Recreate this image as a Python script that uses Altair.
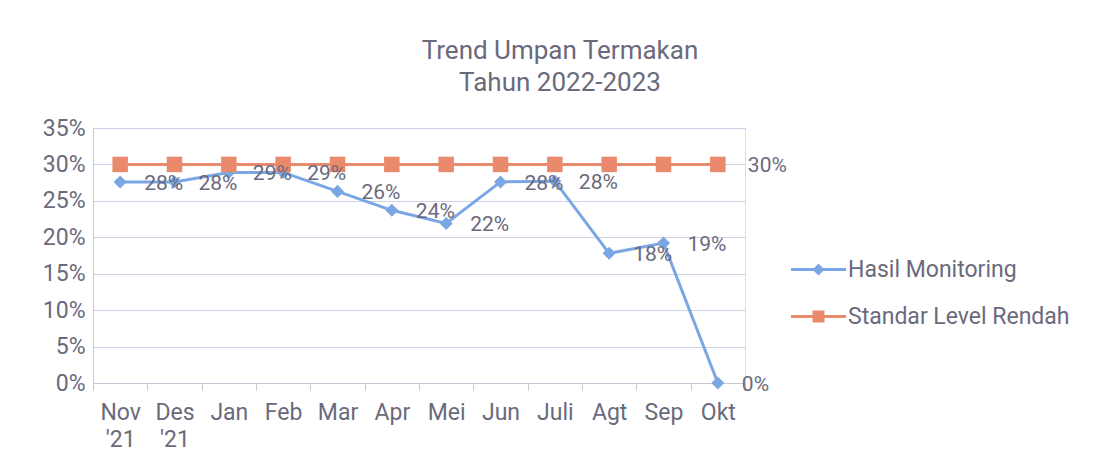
import altair as alt
import pandas as pd

months = ["Nov '21", "Des '21", "Jan", "Feb", "Mar", "Apr", "Mei", "Jun", "Juli", "Agt", "Sep", "Okt"]
hasil = [0.276, 0.276, 0.289, 0.289, 0.263, 0.237, 0.219, 0.276, 0.277, 0.178, 0.192, 0.0]
standar = [0.30] * 12
series_names = ["Hasil Monitoring", "Standar Level Rendah"]
colors = ["#7aa7e3", "#ea8a6c"]
text_color = "#6a6a7c"

rows = []
for i, m in enumerate(months):
    rows.append({"month": m, "value": hasil[i], "series": series_names[0], "idx": i})
for i, m in enumerate(months):
    rows.append({"month": m, "value": standar[i], "series": series_names[1], "idx": i})
df = pd.DataFrame(rows)

FONT = "Roboto"

x_enc = alt.X("month:N", sort=months, title=None,
              scale=alt.Scale(paddingInner=0, paddingOuter=0),
              axis=alt.Axis(labelAngle=0, labelFontSize=23, labelColor=text_color, labelFont=FONT,
                            labelExpr="datum.value ? split(datum.value, ' ') : ''", labelLineHeight=27,
                            tickBand="extent", ticks=True, tickSize=7, tickColor="#c8c8d8",
                            domainColor="#c8c8d8", labelPadding=11, grid=False))
y_enc = alt.Y("value:Q", title=None,
              scale=alt.Scale(domain=[0, 0.35], nice=False),
              axis=alt.Axis(format=".0%", values=[0, 0.05, 0.1, 0.15, 0.2, 0.25, 0.3, 0.35],
                            labelFontSize=23, labelColor=text_color, labelFont=FONT,
                            ticks=False, labelPadding=8, domainColor="#c8c8d8",
                            gridColor="#cfd0e6", gridWidth=1))
color_enc = alt.Color("series:N", scale=alt.Scale(domain=series_names, range=colors), legend=None)

base = alt.Chart(df)

lines = base.mark_line(strokeWidth=3).encode(x=x_enc, y=y_enc, color=color_enc, detail="series:N")

points = base.mark_point(filled=True, opacity=1).encode(
    x=x_enc, y=y_enc, color=color_enc,
    shape=alt.Shape("series:N", scale=alt.Scale(domain=series_names, range=["diamond", "square"]), legend=None),
    size=alt.Size("series:N", scale=alt.Scale(domain=series_names, range=[170, 240]), legend=None),
)

labels_blue = base.transform_filter(alt.datum.series == series_names[0]).mark_text(
    align="left", baseline="middle", dx=24, dy=2, fontSize=21, font=FONT, color=text_color
).encode(x=x_enc, y=y_enc, text=alt.Text("value:Q", format=".0%"))

labels_orange = base.transform_filter(
    (alt.datum.series == series_names[1]) & (alt.datum.idx == 11)
).mark_text(
    align="left", baseline="middle", dx=30, dy=2, fontSize=21, font=FONT, color=text_color
).encode(x=x_enc, y=y_enc, text=alt.Text("value:Q", format=".0%"))

legend_paths = [
    "M-2.75,-0.14H2.75V0.14H-2.75Z M0,-0.6L0.6,0L0,0.6L-0.6,0Z",
    "M-2.75,-0.14H2.75V0.14H-2.75Z M-0.6,-0.6H0.6V0.6H-0.6Z",
]
legend_cfg = dict(title=None, orient="none", legendX=714, legendY=130,
                  labelFontSize=23, labelFont=FONT, labelColor=text_color, labelLimit=400,
                  symbolSize=400, labelOffset=18, rowPadding=23, symbolOpacity=1)
legend_layer = alt.Chart(df).transform_filter("false").mark_point(filled=True, opacity=1, size=400).encode(
    x=x_enc, y=y_enc,
    color=alt.Color("series:N", scale=alt.Scale(domain=series_names, range=colors),
                    legend=alt.Legend(**legend_cfg)),
    shape=alt.Shape("series:N", scale=alt.Scale(domain=series_names, range=legend_paths),
                    legend=alt.Legend(**legend_cfg)),
)

chart = alt.layer(lines, points, labels_blue, labels_orange, legend_layer).resolve_scale(
    color="independent", shape="independent"
).properties(
    width=652, height=255,
    autosize=alt.AutoSizeParams(type="none"),
    padding={"left": 85, "top": 120, "right": 342, "bottom": 82},
    title=alt.TitleParams(["Trend Umpan Termakan", "Tahun 2022-2023"], fontSize=26, font=FONT,
                          fontWeight="normal", color="#6a6a7c", anchor="middle", dx=141,
                          lineHeight=32, offset=21),
).configure_view(stroke=None).configure(background="white")

chart.save("out.html", embed_options={"renderer": "svg", "actions": False})
